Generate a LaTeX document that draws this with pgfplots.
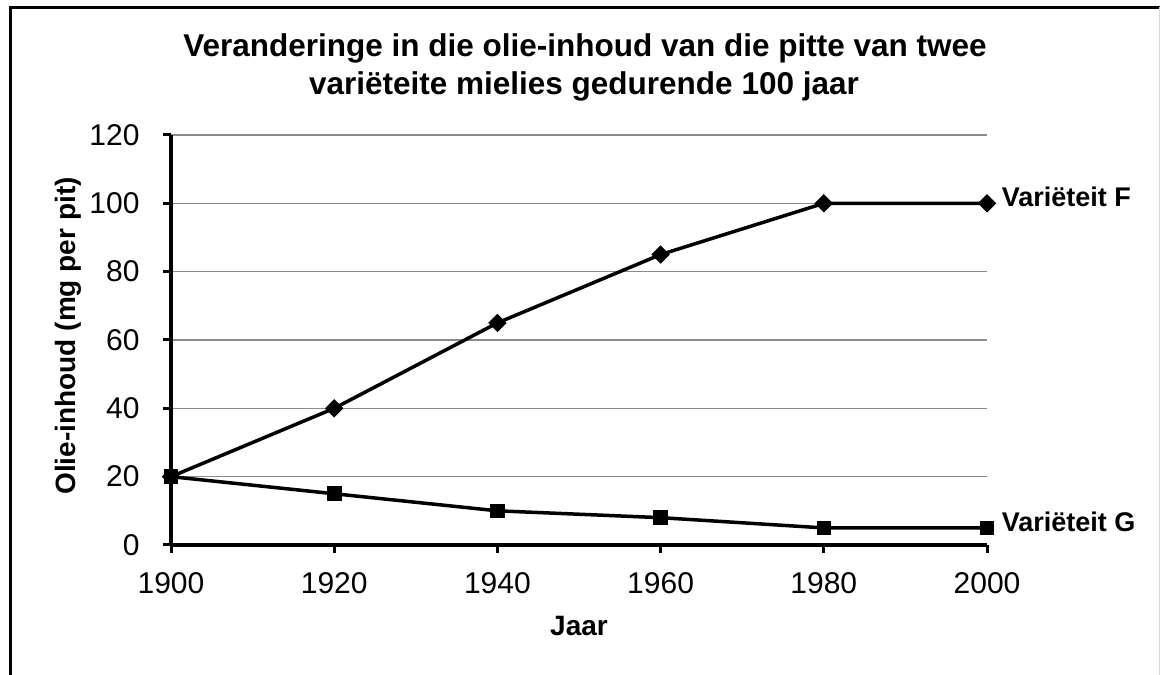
\documentclass[border=0pt]{standalone}
\usepackage{fontspec}
\setmainfont{Liberation Sans}
\usepackage{pgfplots}
\pgfplotsset{compat=1.18}
\begin{document}
\begin{tikzpicture}[x=1bp,y=1bp]
\useasboundingbox (0,0) rectangle (1160,675);
\draw[line width=3bp] (10,0) -- (10,667.5) -- (1160,667.5);
\draw[line width=1bp, black!15] (1159.5,0) -- (1159.5,667.5);
\begin{axis}[
  at={(171bp,130bp)}, anchor=south west,
  scale only axis, width=816bp, height=410bp,
  xmin=1900, xmax=2000, ymin=0, ymax=120,
  axis x line*=bottom, axis y line*=left,
  axis line style={line width=3.5bp, black},
  xtick={1900,1920,...,2000}, ytick={0,20,...,120},
  tick align=outside, major tick length=8bp,
  tick style={line width=3bp, black},
  ymajorgrids, grid style={line width=1.5bp, color=black!45},
  /pgf/number format/assume math mode=true,
  /pgf/number format/1000 sep={},
  ticklabel style={font=\fontsize{30bp}{36bp}\selectfont},
  xticklabel style={yshift=-16bp},
  yticklabel style={xshift=-20bp},
  clip=false,
]
\addplot[black, line width=3.5bp, mark=square*, mark size=6bp,
  mark options={solid, rotate=45, line width=1bp}]
  coordinates {(1900,20)(1920,40)(1940,65)(1960,85)(1980,100)(2000,100)}
  node[pos=1, anchor=base west, xshift=13bp, yshift=-3bp, inner sep=0pt,
       font=\fontsize{27bp}{32bp}\selectfont\bfseries] {Variëteit F};
\addplot[black, line width=3.5bp, mark=square*, mark size=6.8bp,
  mark options={solid, line width=1bp}]
  coordinates {(1900,20)(1920,15)(1940,10)(1960,8)(1980,5)(2000,5)}
  node[pos=1, anchor=base west, xshift=13bp, yshift=-4bp, inner sep=0pt,
       font=\fontsize{27bp}{32bp}\selectfont\bfseries] {Variëteit G};
\end{axis}
\node[anchor=base, inner sep=0pt, font=\fontsize{31.5bp}{38bp}\selectfont\bfseries]
  at (585,618) {Veranderinge in die olie-inhoud van die pitte van twee};
\node[anchor=base, inner sep=0pt, font=\fontsize{31.5bp}{38bp}\selectfont\bfseries]
  at (584,580) {variëteite mielies gedurende 100 jaar};
\node[rotate=90, inner sep=0pt, font=\fontsize{28bp}{34bp}\selectfont\bfseries]
  at (68,339) {Olie-inhoud (mg per pit)};
\node[anchor=base, inner sep=0pt, font=\fontsize{28bp}{34bp}\selectfont\bfseries]
  at (579,39) {Jaar};
\end{tikzpicture}
\end{document}
